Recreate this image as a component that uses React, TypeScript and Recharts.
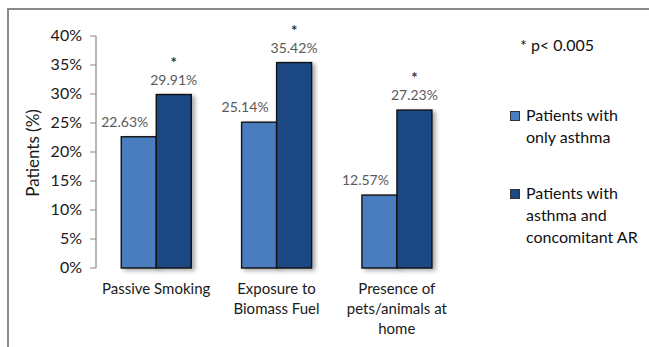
import React from 'react';
import { BarChart, Bar, XAxis, YAxis, LabelList } from 'recharts';

// Exposure categories (line breaks mark where each axis label wraps)
const categories = [
  'Passive Smoking',
  'Exposure to\nBiomass Fuel',
  'Presence of\npets/animals at\nhome',
];

// Share of patients (%) per group
const onlyAsthma = [22.63, 25.14, 12.57];
const asthmaWithAR = [29.91, 35.42, 27.23];

const yTicks = [0, 5, 10, 15, 20, 25, 30, 35, 40];
const edgeTicks = [0, 1, 2, 3];

const seriesNames = ['Patients with\nonly asthma', 'Patients with\nasthma and\nconcomitant AR'];
const significanceNote = '* p< 0.005';
const significanceMark = '*';
const yAxisTitle = 'Patients (%)';

const LIGHT = '#4a7dc0';
const DARK = '#1c4983';
const FONT = 'Lato, "Open Sans", sans-serif';

const data = categories.map((name, i) => ({
  name,
  onlyAsthma: onlyAsthma[i],
  asthmaWithAR: asthmaWithAR[i],
  pos: i + 0.5,
}));

const BarShape = (props: any) => {
  const { x, y, width, height, fill } = props;
  if (!height || height <= 0) return null;
  return (
    <rect
      x={x}
      y={y}
      width={width}
      height={height}
      fill={fill}
      stroke="#111"
      strokeWidth={1.4}
      style={{ filter: 'drop-shadow(3px 2px 2px rgba(0,0,0,0.35))' }}
    />
  );
};

const CategoryTick = (props: any) => {
  const { x, y, payload } = props;
  const lines = String(payload.value).split('\n');
  return (
    <text x={x} y={y} textAnchor="middle" fill="#1a1a1a" fontSize={15} fontFamily={FONT}>
      {lines.map((l, i) => (
        <tspan key={i} x={x} dy={i === 0 ? 18 : 20}>
          {l}
        </tspan>
      ))}
    </text>
  );
};

const YTick = (props: any) => {
  const { x, y, payload } = props;
  return (
    <text x={x} y={y} dy={5} textAnchor="end" fill="#1a1a1a" fontSize={16} fontFamily={FONT}>
      {payload.value}%
    </text>
  );
};

const valueLabel = (shift: number) => (props: any) => {
  const { x, y, width, value } = props;
  return (
    <text
      x={x + width / 2 + shift}
      y={y - 10}
      textAnchor="middle"
      fill="#5a5a5a"
      fontSize={14}
      fontFamily={FONT}
    >
      {value.toFixed(2)}%
    </text>
  );
};

const StarLabel = (props: any) => {
  const { x, y, width } = props;
  return (
    <text
      x={x + width / 2}
      y={y - 27}
      textAnchor="middle"
      fill="#333"
      fontSize={15}
      fontWeight={700}
      fontFamily={FONT}
    >
      {significanceMark}
    </text>
  );
};

const YTitle = () => (
  <text
    x={32}
    y={153}
    transform="rotate(-90 32 153)"
    textAnchor="middle"
    dominantBaseline="central"
    fill="#1a1a1a"
    fontSize={17}
    fontFamily={FONT}
  >
    {yAxisTitle}
  </text>
);

const legendColors = [LIGHT, DARK];

export default function App() {
  return (
    <div
      style={{
        position: 'absolute',
        left: 0,
        top: 0,
        width: 649,
        height: 347,
        background: '#fff',
        overflow: 'hidden',
        fontFamily: FONT,
      }}
    >
      <div
        style={{
          position: 'absolute',
          left: 7,
          top: 8,
          width: 660,
          height: 360,
          borderTop: '2px solid #8a8a8a',
          borderLeft: '2px solid #8a8a8a',
        }}
      />
      <BarChart
        width={649}
        height={347}
        data={data}
        margin={{ top: 36, right: 192, bottom: 0, left: 0 }}
        barCategoryGap="21%"
        barGap={0}
        style={{ position: 'absolute', left: 0, top: 0 }}
      >
        <XAxis
          xAxisId="edges"
          type="number"
          dataKey="pos"
          domain={[0, 3]}
          ticks={edgeTicks}
          tick={false}
          tickSize={5}
          tickLine={{ stroke: '#888' }}
          axisLine={{ stroke: '#888', strokeWidth: 1.2 }}
          height={0}
          allowDataOverflow
        />
        <XAxis
          dataKey="name"
          tick={<CategoryTick />}
          tickLine={false}
          axisLine={false}
          interval={0}
          height={79}
        />
        <YAxis
          width={96}
          domain={[0, 40]}
          ticks={yTicks}
          tick={<YTick />}
          tickSize={6}
          tickMargin={8}
          tickLine={{ stroke: '#888' }}
          axisLine={{ stroke: '#888', strokeWidth: 1.2 }}
          interval={0}
          label={<YTitle />}
        />
        <Bar
          dataKey="onlyAsthma"
          name={seriesNames[0]}
          fill={LIGHT}
          shape={<BarShape />}
          isAnimationActive={false}
        >
          <LabelList dataKey="onlyAsthma" content={valueLabel(-14)} />
        </Bar>
        <Bar
          dataKey="asthmaWithAR"
          name={seriesNames[1]}
          fill={DARK}
          shape={<BarShape />}
          isAnimationActive={false}
        >
          <LabelList dataKey="asthmaWithAR" content={valueLabel(0)} />
          <LabelList dataKey="asthmaWithAR" content={<StarLabel />} />
        </Bar>
      </BarChart>

      <div
        style={{
          position: 'absolute',
          left: 520,
          top: 35,
          fontSize: 16,
          color: '#111',
          whiteSpace: 'nowrap',
        }}
      >
        {significanceNote}
      </div>

      {seriesNames.map((name, i) => (
        <div
          key={i}
          style={{
            position: 'absolute',
            left: 510,
            top: i === 0 ? 104 : 182,
            display: 'flex',
            alignItems: 'flex-start',
          }}
        >
          <div
            style={{
              width: 8,
              height: 8,
              marginTop: 7,
              marginRight: 6,
              background: legendColors[i],
              border: '1px solid #333',
            }}
          />
          <div
            style={{
              fontSize: 16,
              lineHeight: '22px',
              color: '#111',
              whiteSpace: 'pre',
            }}
          >
            {name}
          </div>
        </div>
      ))}
    </div>
  );
}
